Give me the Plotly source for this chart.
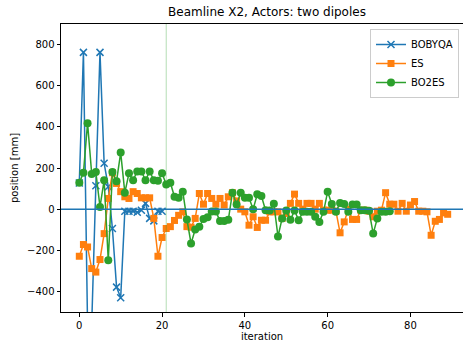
import plotly.graph_objects as go

bobyqa = [127, 762, -570, -560, 114, 762, 223, 109, -94, -379, -431,
          -10, -10, -10, -15, -5, 28, -45, -57, -10, -10]

es = [-229, -172, -184, -289, -306, -245, -119, 52, 177, 125,
      85, 60, 52, 85, 76, 55, 55, 55, -45, -229,
      -138, -94, -85, -55, -30, -13, -85, -88, -45, 76,
      24, 76, 52, 24, 52, 20, 60, 80, 40, 0,
      -13, -78, -37, -89, -54, -54, -13, -13, -13, -45,
      -21, 28, 73, 28, 0, 28, 28, 0, 28, -5,
      -5, -5, -10, -115, -62, 0, -50, -50, -5, -5,
      -10, -37, -10, -5, 80, 24, 24, -10, 28, -10,
      20, 37, -10, -10, -13, -127, -59, -50, -18, -25]

bo2es = [128, 177, 418, 171, 180, 11, 141, -249, 180, 136,
         275, 80, 174, 141, 183, 183, 141, 183, 141, 138,
         174, 120, 128, 60, 55, 85, -50, -167, -99, -86,
         -48, -40, -12, -12, -58, -58, -52, 80, 23, 80,
         55, 55, 0, 72, 64, -5, -6, 26, -133, -45,
         -7, -52, -7, -54, -13, -13, -13, -37, -62, -13,
         85, 25, -13, 30, 25, -13, 23, 23, -5, -5,
         -8, -119, -45, -13, -13, -10]

marker_iter = 21
y_ticks = [-400, -200, 0, 200, 400, 600, 800]
y_ticktext = [str(v).replace('-', '\u2212') for v in y_ticks]
x_ticks = [0, 20, 40, 60, 80]

W, H = 463, 342
L, R, T, B = 61, 0, 24, 30
PW, PH = W - L - R, H - T - B
FONT = "DejaVu Sans"

fig = go.Figure()
fig.add_trace(go.Scatter(
    x=list(range(len(bobyqa))), y=bobyqa, mode='lines+markers', name='BOBYQA',
    line=dict(color='#1f77b4', width=1.5),
    marker=dict(symbol='x-thin', size=7, color='#1f77b4',
                line=dict(width=1.5, color='#1f77b4'))))
fig.add_trace(go.Scatter(
    x=list(range(len(es))), y=es, mode='lines+markers', name='ES',
    line=dict(color='#ff7f0e', width=1.5),
    marker=dict(symbol='square', size=7, color='#ff7f0e')))
fig.add_trace(go.Scatter(
    x=list(range(len(bo2es))), y=bo2es, mode='lines+markers', name='BO2ES',
    line=dict(color='#2ca02c', width=1.5),
    marker=dict(symbol='circle', size=8, color='#2ca02c')))

fig.add_shape(type='line', xref='x', yref='paper', x0=marker_iter, x1=marker_iter,
              y0=0, y1=1, line=dict(color='rgba(44,160,44,0.35)', width=1), layer='above')
fig.add_shape(type='line', xref='paper', yref='y', x0=0, x1=1, y0=0, y1=0,
              line=dict(color='#1f77b4', width=1.5), layer='above')

fig.update_layout(
    width=W, height=H,
    margin=dict(l=L, r=R, t=T, b=B, autoexpand=False),
    paper_bgcolor='white', plot_bgcolor='white',
    font=dict(family=FONT, size=10, color='black'),
    title=dict(text='Beamline X2, Actors: two dipoles', x=267 / W, xanchor='center',
               xref='container', yref='container',
               y=1 - 12 / H, yanchor='middle', font=dict(family=FONT, size=12, color='black')),
    showlegend=True,
    legend=dict(x=(459 - L) / PW, xanchor='right', y=1 - (29 - T) / PH, yanchor='top',
                bordercolor='#cccccc', borderwidth=1, bgcolor='rgba(255,255,255,0.8)',
                itemwidth=30, tracegroupgap=0,
                font=dict(family=FONT, size=10, color='black')),
    xaxis=dict(range=[-4.42, 92.7], tickvals=x_ticks, ticks='outside', ticklen=3.5,
               tickcolor='black', showline=True, linecolor='black', linewidth=1, mirror=True,
               showgrid=False, zeroline=False, automargin=False,
               title=dict(text='iteration', standoff=10, font=dict(family=FONT, size=10))),
    yaxis=dict(range=[-500, 900], tickvals=y_ticks, ticktext=y_ticktext, ticks='outside',
               ticklen=3.5, tickcolor='black', showline=True, linecolor='black', linewidth=1,
               showgrid=False, zeroline=False, automargin=False,
               title=dict(text='position [mm]', standoff=6, font=dict(family=FONT, size=10))),
)

fig.write_html("out.html", config={'displayModeBar': False},
               post_script="document.body.style.margin='0';"
                           "document.documentElement.style.overflow='hidden';")
